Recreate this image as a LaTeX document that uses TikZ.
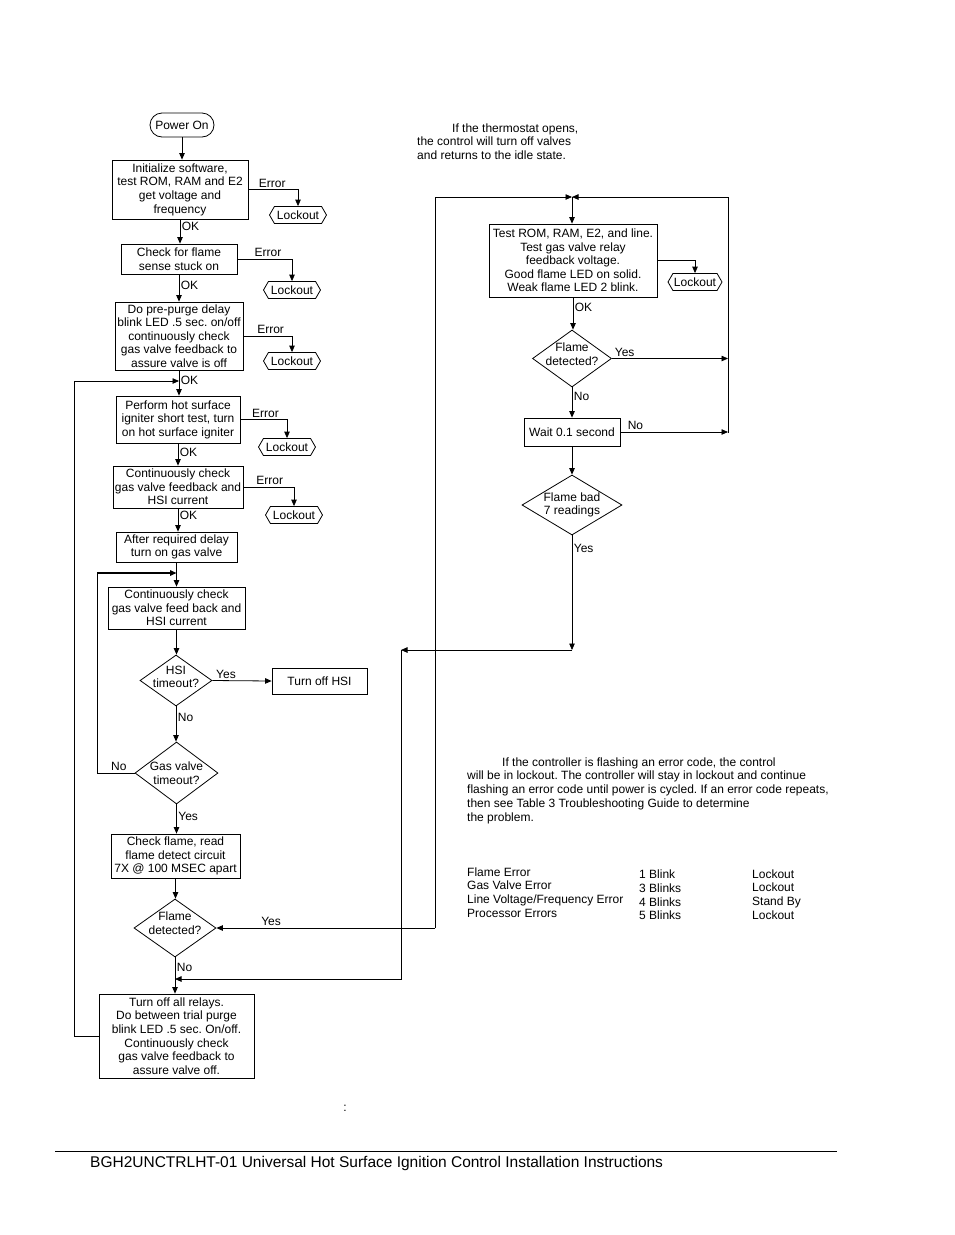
\documentclass[tikz,border=0pt]{standalone}
\usepackage{fontspec}
\setmainfont{Liberation Sans}
\usetikzlibrary{shapes.geometric,shapes.misc,shapes.symbols,arrows.meta}
\newcommand\myfont{\fontsize{12}{13.6}\selectfont}
\newcommand\notefont{\fontsize{12}{13.75}\selectfont}
\begin{document}
\frenchspacing
\begin{tikzpicture}[x=1pt,y=-1pt,
  box/.style={draw, line width=0.8pt, align=center, inner sep=1pt, font=\myfont},
  term/.style={draw, rounded rectangle, line width=0.8pt, inner sep=1pt, font=\myfont, minimum width=66pt, minimum height=24pt},
  dia/.style={draw, diamond, line width=0.8pt, inner sep=0pt},
  txt/.style={align=center, inner sep=0pt, font=\myfont},
  lock/.style={draw, signal, signal to=west and east, signal pointer angle=120, line width=0.8pt, minimum width=57pt, minimum height=17pt, inner sep=1pt, font=\myfont},
  arr/.style={-{Triangle[length=6.5pt,width=5.5pt]}, line width=0.8pt},
  ln/.style={line width=0.8pt},
  lab/.style={font=\myfont, inner sep=1.5pt}]
\useasboundingbox (0,0) rectangle (954,1235);

% ---------- left column ----------
\node[term] (pw) at (182,125) {Power On};
\node[box, minimum width=136pt, minimum height=59pt] (b1) at (180,189.5) {Initialize software,\\test ROM, RAM and E2\\get voltage and\\frequency};
\node[box, minimum width=116pt, minimum height=30pt] (b2) at (179,259) {Check for flame\\sense stuck on};
\node[box, minimum width=128pt, minimum height=68pt] (b3) at (179,336) {Do pre-purge delay\\blink LED .5 sec. on/off\\continuously check\\gas valve feedback to\\assure valve is off};
\node[box, minimum width=124pt, minimum height=47pt] (b4) at (178,419.5) {Perform hot surface\\igniter short test, turn\\on hot surface igniter};
\node[box, minimum width=130pt, minimum height=42pt] (b5) at (178,487) {Continuously check\\gas valve feedback and\\HSI current};
\node[box, minimum width=121pt, minimum height=30pt] (b6) at (176.5,547) {After required delay\\turn on gas valve};
\node[box, minimum width=137pt, minimum height=42pt] (b7) at (176.5,608) {Continuously check\\gas valve feed back and\\HSI current};
\node[dia, minimum width=72pt, minimum height=51pt] (hsi) at (176,680.5) {};
\node[txt] (hsit) at (176,677) {HSI\\timeout?};
\node[box, minimum width=95pt, minimum height=26pt] (toff) at (319.5,681) {Turn off HSI};
\node[dia, minimum width=83pt, minimum height=62pt] (gv) at (176.5,773) {};
\node[txt] (gvt) at (176.5,773) {Gas valve\\timeout?};
\node[box, minimum width=129pt, minimum height=44pt] (b8) at (175.5,856) {Check flame, read\\flame detect circuit\\7X @ 100 MSEC apart};
\node[dia, minimum width=82pt, minimum height=58pt] (fl2) at (175,928) {};
\node[txt] (fl2t) at (175,923) {Flame\\detected?};
\node[box, minimum width=155pt, minimum height=84pt] (b9) at (176.5,1036) {Turn off all relays.\\Do between trial purge\\blink LED .5 sec. On/off.\\Continuously check\\gas valve feedback to\\assure valve off.};

\node[lock] (lo1) at (298,215) {Lockout};
\node[lock] (lo2) at (292,290) {Lockout};
\node[lock] (lo3) at (292,361) {Lockout};
\node[lock] (lo4) at (287,447) {Lockout};
\node[lock] (lo5) at (294,515) {Lockout};

% ---------- right column ----------
\node[box, minimum width=168pt, minimum height=73pt] (r1) at (573,260.5) {Test ROM, RAM, E2, and line.\\Test gas valve relay\\feedback voltage.\\Good flame LED on solid.\\Weak flame LED 2 blink.};
\node[lock, minimum width=54pt] (loR) at (695,282) {Lockout};
\node[dia, minimum width=79pt, minimum height=57pt] (rf1) at (572,358.5) {};
\node[txt] (rf1t) at (572,354.5) {Flame\\detected?};
\node[box, minimum width=96pt, minimum height=28pt] (wt) at (572,432) {Wait 0.1 second};
\node[dia, minimum width=100pt, minimum height=60pt] (rfb) at (572,505) {};
\node[txt] (rfbt) at (572,505) {Flame bad\\7 readings};

% ---------- junction coordinates ----------
\coordinate (j1) at (179,381);
\coordinate (c74) at (74,381);
\coordinate (j2) at (176.5,573);
\coordinate (c97) at (97,573);
\coordinate (jt) at (572,197);
\coordinate (c435b) at (435,928);
\coordinate (c728b) at (728,433);
\coordinate (c572b) at (572,650);
\coordinate (c401t) at (401,650);
\coordinate (j3) at (175,979);

% ---------- left connectors ----------
\draw[arr] (pw.south) -- (pw.south |- b1.north);
\draw[arr] (b1.south) -- node[lab, pos=.3, anchor=west]{OK} (b1.south |- b2.north);
\draw[arr] (b2.south) -- node[lab, pos=.4, anchor=west]{OK} (b2.south |- b3.north);
\draw[arr] (b3.south) -- node[lab, pos=.38, anchor=west]{OK} (b3.south |- b4.north);
\draw[arr] (b4.south) -- node[lab, pos=.4, anchor=west]{OK} (b4.south |- b5.north);
\draw[arr] (b5.south) -- node[lab, pos=.3, anchor=west]{OK} (b5.south |- b6.north);
\draw[arr] (b6.south) -- (b6.south |- b7.north);
\draw[arr] (b7.south) -- (b7.south |- hsi.north);
\draw[arr] (hsi.south) -- node[lab, pos=.3, anchor=west]{No} (hsi.south |- gv.north);
\draw[arr] (hsi.east) -- node[lab, pos=.23, anchor=south]{Yes} (toff.west);
\draw[arr] (gv.south) -- node[lab, pos=.4, anchor=west]{Yes} (gv.south |- b8.north);
\draw[arr] (b8.south) -- (b8.south |- fl2.north);
\draw[arr] (fl2.south) -- node[lab, pos=.27, anchor=west]{No} (fl2.south |- b9.north);

\draw[arr] (b1.east) -| node[lab, pos=.24, anchor=south]{Error} (lo1.north);
\draw[arr] (b2.east) -| node[lab, pos=.28, anchor=south]{Error} (lo2.north);
\draw[arr] (b3.east) -| node[lab, pos=.28, anchor=south]{Error} (lo3.north);
\draw[arr] (b4.east) -| node[lab, pos=.27, anchor=south]{Error} (lo4.north);
\draw[arr] (b5.east) -| node[lab, pos=.26, anchor=south]{Error} (lo5.north);

\draw[ln] (b9.west) -| (c74);
\draw[arr] (c74) -- (j1);
\draw[ln] (gv.west) -| node[lab, pos=.21, anchor=south]{No} (c97);
\draw[arr, line width=1.5pt] (c97) -- (j2);

% ---------- right connectors ----------
\draw[arr] (c435b) -- node[lab, pos=.75, anchor=south]{Yes} (fl2.east);
\draw[arr] (c435b) |- (jt);
\draw[arr] (c728b) |- (jt);
\draw[arr] (jt) -- (jt |- r1.north);
\draw[arr] (r1.east) -| (loR.north);
\draw[arr] (r1.south) -- node[lab, pos=.3, anchor=west]{OK} (r1.south |- rf1.north);
\draw[arr] (rf1.east) -- node[lab, pos=.11, anchor=south]{Yes} (rf1.east -| c728b);
\draw[arr] (rf1.south) -- node[lab, pos=.3, anchor=west]{No} (rf1.south |- wt.north);
\draw[arr] (wt.east) -- node[lab, pos=.14, anchor=south]{No} (wt.east -| c728b);
\draw[arr] (wt.south) -- (wt.south |- rfb.north);
\draw[arr] (rfb.south) -- node[lab, pos=.11, anchor=west]{Yes} (c572b);
\draw[arr] (c572b) -- (c401t);
\draw[arr] (c401t) |- (j3);

% ---------- notes ----------
\node[align=left, inner sep=0pt, font=\notefont, anchor=west] (n1) at (417,141.5) {\hspace*{35pt}If the thermostat opens,\\the control will turn off valves\\and returns to the idle state.};
\node[align=left, inner sep=0pt, font=\notefont, anchor=west] (n2) at (467,790.5) {\hspace*{35pt}If the controller is flashing an error code, the control\\will be in lockout. The controller will stay in lockout and continue\\flashing an error code until power is cycled. If an error code repeats,\\then see Table 3 Troubleshooting Guide to determine\\the problem.};
\node[align=left, inner sep=0pt, font=\notefont, anchor=west] (t1) at (467,892.5) {Flame Error\\Gas Valve Error\\Line Voltage/Frequency Error\\Processor Errors};
\node[align=left, inner sep=0pt, font=\notefont, anchor=west] (t2) at (639,895) {1 Blink\\3 Blinks\\4 Blinks\\5 Blinks};
\node[align=left, inner sep=0pt, font=\notefont, anchor=west] (t3) at (752,894.5) {Lockout\\Lockout\\Stand By\\Lockout};
\node[inner sep=0pt, font=\myfont] (colon) at (345,1108) {:};

% ---------- footer ----------
\draw[line width=1pt] (55,1151) -- (837,1151);
\node[inner sep=0pt, anchor=west, font=\fontsize{15.5}{18}\selectfont] (foot) at (90,1163) {BGH2UNCTRLHT-01 Universal Hot Surface Ignition Control Installation Instructions};
\end{tikzpicture}
\end{document}
